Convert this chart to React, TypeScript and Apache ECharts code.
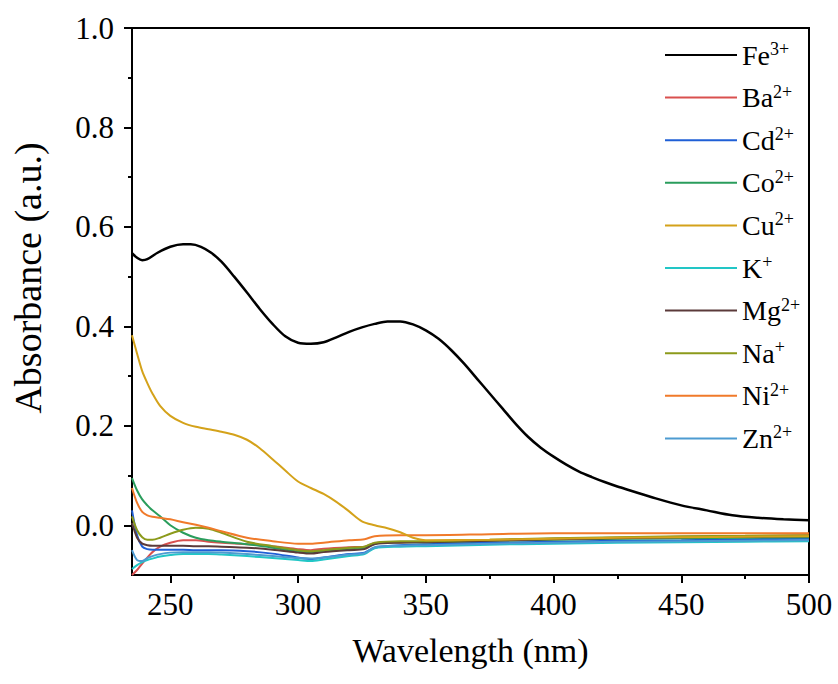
import React, { useEffect, useRef } from "react";
import * as echarts from "echarts";

// Wavelengths (nm)
const feWl = [235, 237, 239, 241, 245, 250, 255, 258, 262, 266, 270, 275, 280, 285, 290, 295, 300, 305, 310, 315, 320, 325, 330, 335, 340, 345, 350, 355, 360, 365, 370, 375, 380, 385, 390, 395, 400, 405, 410, 415, 420, 425, 430, 440, 450, 460, 470, 480, 490, 500];
const feVals = [0.547, 0.538, 0.533, 0.535, 0.548, 0.56, 0.565, 0.565, 0.56, 0.548, 0.53, 0.5, 0.468, 0.435, 0.405, 0.38, 0.367, 0.365, 0.368, 0.378, 0.389, 0.398, 0.405, 0.41, 0.41, 0.404, 0.392, 0.375, 0.352, 0.325, 0.295, 0.265, 0.235, 0.205, 0.178, 0.156, 0.138, 0.122, 0.108, 0.097, 0.087, 0.078, 0.07, 0.054, 0.04, 0.03, 0.02, 0.015, 0.012, 0.01];

const cuWl = [235, 237, 239, 241, 243, 246, 250, 255, 260, 265, 270, 275, 280, 285, 290, 295, 300, 305, 310, 315, 320, 325, 330, 335, 340, 345, 350, 375, 400, 425, 450, 475, 500];
const cuVals = [0.382, 0.345, 0.31, 0.286, 0.265, 0.24, 0.22, 0.206, 0.198, 0.193, 0.188, 0.182, 0.172, 0.155, 0.133, 0.11, 0.088, 0.075, 0.063, 0.047, 0.028, 0.008, 0.0, -0.006, -0.014, -0.025, -0.03, -0.029, -0.027, -0.025, -0.024, -0.023, -0.022];

const baseWl = [235, 237, 239, 241, 243, 246, 250, 255, 260, 265, 270, 280, 290, 300, 305, 310, 320, 326, 330, 340, 350, 375, 400, 425, 450, 475, 500];
const baVals = [-0.1, -0.09, -0.077, -0.065, -0.054, -0.043, -0.035, -0.03, -0.03, -0.033, -0.035, -0.038, -0.042, -0.048, -0.05, -0.047, -0.044, -0.043, -0.036, -0.034, -0.033, -0.03, -0.027, -0.025, -0.023, -0.022, -0.02];
const cdVals = [0.03, -0.02, -0.043, -0.048, -0.049, -0.049, -0.049, -0.049, -0.05, -0.05, -0.05, -0.052, -0.057, -0.065, -0.068, -0.065, -0.058, -0.055, -0.045, -0.04, -0.038, -0.035, -0.033, -0.031, -0.03, -0.028, -0.027];
const coVals = [0.095, 0.07, 0.052, 0.04, 0.03, 0.018, 0.0, -0.015, -0.025, -0.03, -0.033, -0.038, -0.045, -0.053, -0.054, -0.052, -0.048, -0.046, -0.037, -0.034, -0.034, -0.031, -0.029, -0.027, -0.026, -0.025, -0.024];
const kVals = [-0.088, -0.08, -0.074, -0.07, -0.067, -0.063, -0.06, -0.058, -0.058, -0.058, -0.059, -0.062, -0.066, -0.07, -0.072, -0.069, -0.062, -0.058, -0.046, -0.043, -0.042, -0.039, -0.037, -0.035, -0.034, -0.033, -0.032];
const mgVals = [0.005, -0.025, -0.037, -0.04, -0.041, -0.041, -0.041, -0.041, -0.042, -0.042, -0.043, -0.045, -0.049, -0.055, -0.057, -0.054, -0.05, -0.048, -0.038, -0.035, -0.034, -0.031, -0.028, -0.026, -0.024, -0.023, -0.022];
const naVals = [0.018, -0.01, -0.024, -0.029, -0.029, -0.025, -0.017, -0.009, -0.005, -0.007, -0.015, -0.033, -0.042, -0.05, -0.052, -0.05, -0.045, -0.043, -0.035, -0.032, -0.032, -0.029, -0.026, -0.024, -0.022, -0.021, -0.02];
const niVals = [0.075, 0.045, 0.027, 0.02, 0.017, 0.015, 0.012, 0.006, 0.001, -0.005, -0.012, -0.025, -0.032, -0.037, -0.037, -0.035, -0.03, -0.028, -0.022, -0.02, -0.02, -0.018, -0.016, -0.016, -0.016, -0.016, -0.016];
const znVals = [-0.05, -0.07, -0.072, -0.066, -0.062, -0.058, -0.055, -0.054, -0.054, -0.054, -0.055, -0.058, -0.062, -0.066, -0.067, -0.065, -0.059, -0.056, -0.044, -0.041, -0.04, -0.037, -0.035, -0.033, -0.032, -0.031, -0.03];

const ionNames = ["Fe3+", "Ba2+", "Cd2+", "Co2+", "Cu2+", "K+", "Mg2+", "Na+", "Ni2+", "Zn2+"];
const ionBases = ["Fe", "Ba", "Cd", "Co", "Cu", "K", "Mg", "Na", "Ni", "Zn"];
const ionCharges = ["3+", "2+", "2+", "2+", "2+", "+", "2+", "+", "2+", "2+"];
const ionColors = ["#000000", "#d9504f", "#1f5fd6", "#2a9d5c", "#d4a21a", "#22c6c6", "#5b3a3a", "#8c9a1b", "#f07a2a", "#4d9bd1"];

const xLabelVals = [250, 300, 350, 400, 450, 500];
const xMinorVals = [275, 325, 375, 425, 475];
const yLabelVals = [0, 0.2, 0.4, 0.6, 0.8, 1.0];
const yMinorVals = [0.1, 0.3, 0.5, 0.7, 0.9];

const FONT = "'Liberation Serif', 'Times New Roman', serif";

const zip = (xs: number[], ys: number[]) => xs.map((x, i) => [x, ys[i]]);

export default function App() {
  const ref = useRef<HTMLDivElement>(null);
  useEffect(() => {
    if (!ref.current) return;
    const chart = echarts.init(ref.current, null, { renderer: "svg" });
    const seriesData = [
      zip(feWl, feVals),
      zip(baseWl, baVals),
      zip(baseWl, cdVals),
      zip(baseWl, coVals),
      zip(cuWl, cuVals),
      zip(baseWl, kVals),
      zip(baseWl, mgVals),
      zip(baseWl, naVals),
      zip(baseWl, niVals),
      zip(baseWl, znVals),
    ];
    const order = [1, 2, 3, 5, 6, 7, 8, 9, 4, 0];
    const series = order.map((i) => ({
      name: ionNames[i],
      type: "line",
      data: seriesData[i],
      xAxisIndex: 0,
      yAxisIndex: 0,
      showSymbol: false,
      symbol: "none",
      smooth: 0.3,
      color: ionColors[i],
      lineStyle: { width: i === 0 ? 2.5 : 2, color: ionColors[i] },
      z: i === 0 ? 5 : 3,
    }));
    const axisLineStyle = { color: "#000", width: 2 };
    chart.setOption({
      animation: false,
      backgroundColor: "#fff",
      grid: {
        left: 132,
        top: 28,
        right: 29,
        bottom: 109,
        show: true,
        borderColor: "#000",
        borderWidth: 2,
        backgroundColor: "transparent",
      },
      legend: {
        orient: "vertical",
        left: 660,
        top: 35,
        icon: "rect",
        itemWidth: 72,
        itemHeight: 2,
        itemGap: 13.6,
        data: ionNames,
        formatter: (name: string) => {
          const i = ionNames.indexOf(name);
          return `{b|${ionBases[i]}}{s|${ionCharges[i]}}`;
        },
        textStyle: {
          fontFamily: FONT,
          fontSize: 28,
          color: "#000",
          rich: {
            b: { fontFamily: FONT, fontSize: 28, color: "#000", lineHeight: 30 },
            s: { fontFamily: FONT, fontSize: 18, color: "#000", verticalAlign: "top", lineHeight: 30, padding: [0, 0, 10, 0] },
          },
        },
      },
      xAxis: [
        {
          type: "value",
          min: 235,
          max: 500,
          position: "bottom",
          name: "Wavelength (nm)",
          nameLocation: "middle",
          nameGap: 58,
          nameTextStyle: { fontFamily: FONT, fontSize: 34, color: "#000" },
          axisLine: { show: true, onZero: false, lineStyle: axisLineStyle },
          axisTick: { show: true, inside: false, length: 8, customValues: xLabelVals, lineStyle: axisLineStyle },
          axisLabel: {
            show: true,
            customValues: xLabelVals,
            margin: 14,
            fontFamily: FONT,
            fontSize: 31,
            color: "#000",
          },
          splitLine: { show: false },
        },
        {
          type: "value",
          min: 235,
          max: 500,
          position: "bottom",
          axisLine: { show: false, onZero: false },
          axisTick: { show: true, inside: false, length: 4, customValues: xMinorVals, lineStyle: axisLineStyle },
          axisLabel: { show: false },
          splitLine: { show: false },
        },
      ],
      yAxis: [
        {
          type: "value",
          min: -0.1,
          max: 1.0,
          position: "left",
          axisLine: { show: true, onZero: false, lineStyle: axisLineStyle },
          axisTick: { show: true, inside: false, length: 8, customValues: yLabelVals, lineStyle: axisLineStyle },
          axisLabel: {
            show: true,
            customValues: yLabelVals,
            formatter: (v: number) => v.toFixed(1),
            margin: 18,
            fontFamily: FONT,
            fontSize: 31,
            color: "#000",
          },
          splitLine: { show: false },
        },
        {
          type: "value",
          min: -0.1,
          max: 1.0,
          position: "left",
          axisLine: { show: false, onZero: false },
          axisTick: { show: true, inside: false, length: 4, customValues: yMinorVals, lineStyle: axisLineStyle },
          axisLabel: { show: false },
          splitLine: { show: false },
        },
      ],
      graphic: [
        {
          type: "text",
          x: 28,
          y: 278,
          rotation: Math.PI / 2,
          style: {
            text: "Absorbance (a.u.)",
            font: `38px ${FONT}`,
            fill: "#000",
            textAlign: "center",
            textVerticalAlign: "middle",
          },
        },
      ],
      series,
    });
    return () => chart.dispose();
  }, []);
  return (
    <div
      ref={ref}
      style={{ position: "fixed", left: 0, top: 0, width: 838, height: 684 }}
    />
  );
}
